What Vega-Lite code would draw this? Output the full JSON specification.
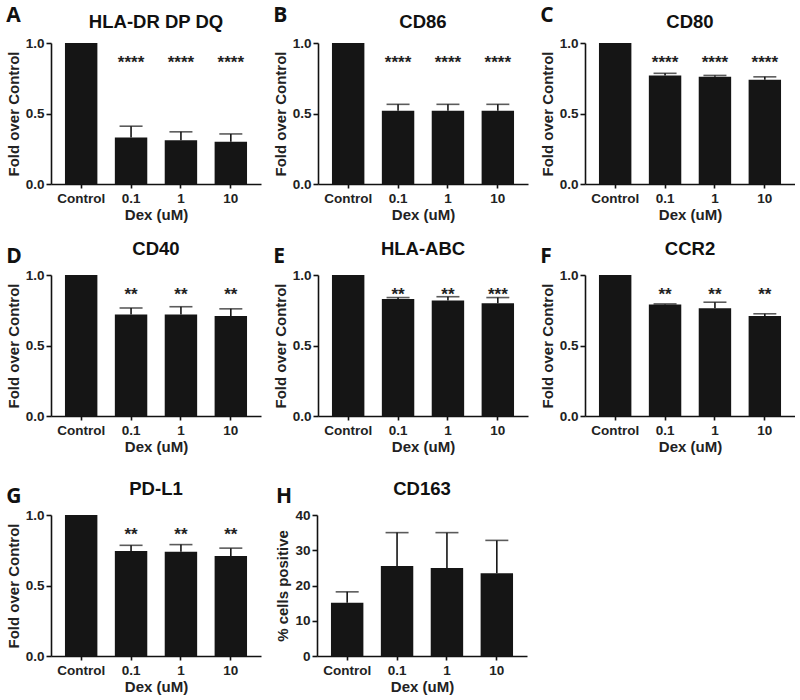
{
  "$schema": "https://vega.github.io/schema/vega-lite/v6.json",
  "background": "white",
  "padding": {"left": 6, "top": 4, "right": 0, "bottom": 0},
  "config": {
    "font": "Liberation Sans",
    "view": {"stroke": null},
    "axis": {
      "domainColor": "#111", "domainWidth": 1.6, "tickColor": "#111", "tickWidth": 1.6,
      "labelFont": "Liberation Sans", "labelFontWeight": "bold", "labelFontSize": 13.5, "labelColor": "#222",
      "titleFont": "Liberation Sans", "titleFontWeight": "bold", "titleFontSize": 15, "titleColor": "#222",
      "grid": false
    },
    "axisX": {"labelAngle": 0, "tickSize": 4, "labelPadding": 3, "titlePadding": 3},
    "axisY": {"tickSize": 5, "labelPadding": 2, "titlePadding": 4},
    "title": {"font": "Liberation Sans", "fontWeight": "bold", "fontSize": 18.5, "color": "#111"}
  },
  "datasets": {
    "d": [
      {"panel": "A", "dose": "Control", "mean": 1.0, "upper": 1.0, "sig": ""},
      {"panel": "A", "dose": "0.1", "mean": 0.33, "upper": 0.41, "sig": "****"},
      {"panel": "A", "dose": "1", "mean": 0.31, "upper": 0.37, "sig": "****"},
      {"panel": "A", "dose": "10", "mean": 0.30, "upper": 0.355, "sig": "****"},
      {"panel": "B", "dose": "Control", "mean": 1.0, "upper": 1.0, "sig": ""},
      {"panel": "B", "dose": "0.1", "mean": 0.52, "upper": 0.565, "sig": "****"},
      {"panel": "B", "dose": "1", "mean": 0.52, "upper": 0.565, "sig": "****"},
      {"panel": "B", "dose": "10", "mean": 0.52, "upper": 0.565, "sig": "****"},
      {"panel": "C", "dose": "Control", "mean": 1.0, "upper": 1.0, "sig": ""},
      {"panel": "C", "dose": "0.1", "mean": 0.77, "upper": 0.785, "sig": "****"},
      {"panel": "C", "dose": "1", "mean": 0.76, "upper": 0.77, "sig": "****"},
      {"panel": "C", "dose": "10", "mean": 0.74, "upper": 0.76, "sig": "****"},
      {"panel": "D", "dose": "Control", "mean": 1.0, "upper": 1.0, "sig": ""},
      {"panel": "D", "dose": "0.1", "mean": 0.72, "upper": 0.766, "sig": "**"},
      {"panel": "D", "dose": "1", "mean": 0.72, "upper": 0.775, "sig": "**"},
      {"panel": "D", "dose": "10", "mean": 0.71, "upper": 0.76, "sig": "**"},
      {"panel": "E", "dose": "Control", "mean": 1.0, "upper": 1.0, "sig": ""},
      {"panel": "E", "dose": "0.1", "mean": 0.83, "upper": 0.84, "sig": "**"},
      {"panel": "E", "dose": "1", "mean": 0.82, "upper": 0.846, "sig": "**"},
      {"panel": "E", "dose": "10", "mean": 0.80, "upper": 0.84, "sig": "***"},
      {"panel": "F", "dose": "Control", "mean": 1.0, "upper": 1.0, "sig": ""},
      {"panel": "F", "dose": "0.1", "mean": 0.79, "upper": 0.795, "sig": "**"},
      {"panel": "F", "dose": "1", "mean": 0.765, "upper": 0.807, "sig": "**"},
      {"panel": "F", "dose": "10", "mean": 0.71, "upper": 0.725, "sig": "**"},
      {"panel": "G", "dose": "Control", "mean": 1.0, "upper": 1.0, "sig": ""},
      {"panel": "G", "dose": "0.1", "mean": 0.745, "upper": 0.785, "sig": "**"},
      {"panel": "G", "dose": "1", "mean": 0.74, "upper": 0.79, "sig": "**"},
      {"panel": "G", "dose": "10", "mean": 0.71, "upper": 0.765, "sig": "**"},
      {"panel": "H", "dose": "Control", "mean": 15.1, "upper": 18.2, "sig": ""},
      {"panel": "H", "dose": "0.1", "mean": 25.5, "upper": 35.0, "sig": ""},
      {"panel": "H", "dose": "1", "mean": 25.0, "upper": 35.0, "sig": ""},
      {"panel": "H", "dose": "10", "mean": 23.5, "upper": 32.8, "sig": ""}
    ]
  },
  "spacing": 24,
  "vconcat": [
   {"vconcat": [
    {"hconcat": [
    {"title": {"text": "A", "anchor": "start", "frame": "bounds", "font": "Open Sans", "fontSize": 21, "offset": -13},
     "vconcat": [{
      "title": {"text": "HLA-DR DP DQ", "offset": 5},
      "width": 210, "height": 141,
      "data": {"name": "d"}, "transform": [{"filter": "datum.panel == 'A'"}],
      "encoding": {"x": {"field": "dose", "type": "nominal", "sort": ["Control", "0.1", "1", "10"], "title": "Dex (uM)", "scale": {"paddingInner": 0.35, "paddingOuter": 0.28}}},
      "layer": [
        {"mark": {"type": "bar", "color": "#151515"}, "encoding": {"y": {"field": "mean", "type": "quantitative", "title": "Fold over Control", "scale": {"domain": [0, 1]}, "axis": {"values": [0, 0.5, 1], "format": ".1f"}}}},
        {"transform": [{"filter": "datum.upper > datum.mean"}], "mark": {"type": "rule", "color": "#151515", "strokeWidth": 1.6}, "encoding": {"y": {"field": "mean", "type": "quantitative", "title": "Fold over Control", "axis": {"values": [0, 0.5, 1], "format": ".1f"}}, "y2": {"field": "upper"}}},
        {"transform": [{"filter": "datum.upper > datum.mean"}], "mark": {"type": "tick", "color": "#151515", "thickness": 1.6, "size": 23, "orient": "horizontal"}, "encoding": {"y": {"field": "upper", "type": "quantitative", "title": "Fold over Control", "axis": {"values": [0, 0.5, 1], "format": ".1f"}}}},
        {"transform": [{"filter": "datum.sig != ''"}], "mark": {"type": "text", "font": "Liberation Sans", "fontWeight": "bold", "fontSize": 17, "baseline": "middle", "dy": 3, "color": "#222"}, "encoding": {"y": {"datum": 0.88}, "text": {"field": "sig"}}}
      ]}]},
    {"title": {"text": "B", "anchor": "start", "frame": "bounds", "font": "Open Sans", "fontSize": 21, "offset": -13},
     "vconcat": [{
      "title": {"text": "CD86", "offset": 5},
      "width": 210, "height": 141,
      "data": {"name": "d"}, "transform": [{"filter": "datum.panel == 'B'"}],
      "encoding": {"x": {"field": "dose", "type": "nominal", "sort": ["Control", "0.1", "1", "10"], "title": "Dex (uM)", "scale": {"paddingInner": 0.35, "paddingOuter": 0.28}}},
      "layer": [
        {"mark": {"type": "bar", "color": "#151515"}, "encoding": {"y": {"field": "mean", "type": "quantitative", "title": "Fold over Control", "scale": {"domain": [0, 1]}, "axis": {"values": [0, 0.5, 1], "format": ".1f"}}}},
        {"transform": [{"filter": "datum.upper > datum.mean"}], "mark": {"type": "rule", "color": "#151515", "strokeWidth": 1.6}, "encoding": {"y": {"field": "mean", "type": "quantitative", "title": "Fold over Control", "axis": {"values": [0, 0.5, 1], "format": ".1f"}}, "y2": {"field": "upper"}}},
        {"transform": [{"filter": "datum.upper > datum.mean"}], "mark": {"type": "tick", "color": "#151515", "thickness": 1.6, "size": 23, "orient": "horizontal"}, "encoding": {"y": {"field": "upper", "type": "quantitative", "title": "Fold over Control", "axis": {"values": [0, 0.5, 1], "format": ".1f"}}}},
        {"transform": [{"filter": "datum.sig != ''"}], "mark": {"type": "text", "font": "Liberation Sans", "fontWeight": "bold", "fontSize": 17, "baseline": "middle", "dy": 3, "color": "#222"}, "encoding": {"y": {"datum": 0.88}, "text": {"field": "sig"}}}
      ]}]},
    {"title": {"text": "C", "anchor": "start", "frame": "bounds", "font": "Open Sans", "fontSize": 21, "offset": -13},
     "vconcat": [{
      "title": {"text": "CD80", "offset": 5},
      "width": 210, "height": 141,
      "data": {"name": "d"}, "transform": [{"filter": "datum.panel == 'C'"}],
      "encoding": {"x": {"field": "dose", "type": "nominal", "sort": ["Control", "0.1", "1", "10"], "title": "Dex (uM)", "scale": {"paddingInner": 0.35, "paddingOuter": 0.28}}},
      "layer": [
        {"mark": {"type": "bar", "color": "#151515"}, "encoding": {"y": {"field": "mean", "type": "quantitative", "title": "Fold over Control", "scale": {"domain": [0, 1]}, "axis": {"values": [0, 0.5, 1], "format": ".1f"}}}},
        {"transform": [{"filter": "datum.upper > datum.mean"}], "mark": {"type": "rule", "color": "#151515", "strokeWidth": 1.6}, "encoding": {"y": {"field": "mean", "type": "quantitative", "title": "Fold over Control", "axis": {"values": [0, 0.5, 1], "format": ".1f"}}, "y2": {"field": "upper"}}},
        {"transform": [{"filter": "datum.upper > datum.mean"}], "mark": {"type": "tick", "color": "#151515", "thickness": 1.6, "size": 23, "orient": "horizontal"}, "encoding": {"y": {"field": "upper", "type": "quantitative", "title": "Fold over Control", "axis": {"values": [0, 0.5, 1], "format": ".1f"}}}},
        {"transform": [{"filter": "datum.sig != ''"}], "mark": {"type": "text", "font": "Liberation Sans", "fontWeight": "bold", "fontSize": 17, "baseline": "middle", "dy": 3, "color": "#222"}, "encoding": {"y": {"datum": 0.88}, "text": {"field": "sig"}}}
      ]}]}
    ], "spacing": 12},
    {"hconcat": [
    {"title": {"text": "D", "anchor": "start", "frame": "bounds", "font": "Open Sans", "fontSize": 21, "offset": -27},
     "vconcat": [{
      "title": {"text": "CD40", "offset": 10},
      "width": 210, "height": 141,
      "data": {"name": "d"}, "transform": [{"filter": "datum.panel == 'D'"}],
      "encoding": {"x": {"field": "dose", "type": "nominal", "sort": ["Control", "0.1", "1", "10"], "title": "Dex (uM)", "scale": {"paddingInner": 0.35, "paddingOuter": 0.28}}},
      "layer": [
        {"mark": {"type": "bar", "color": "#151515"}, "encoding": {"y": {"field": "mean", "type": "quantitative", "title": "Fold over Control", "scale": {"domain": [0, 1]}, "axis": {"values": [0, 0.5, 1], "format": ".1f"}}}},
        {"transform": [{"filter": "datum.upper > datum.mean"}], "mark": {"type": "rule", "color": "#151515", "strokeWidth": 1.6}, "encoding": {"y": {"field": "mean", "type": "quantitative", "title": "Fold over Control", "axis": {"values": [0, 0.5, 1], "format": ".1f"}}, "y2": {"field": "upper"}}},
        {"transform": [{"filter": "datum.upper > datum.mean"}], "mark": {"type": "tick", "color": "#151515", "thickness": 1.6, "size": 23, "orient": "horizontal"}, "encoding": {"y": {"field": "upper", "type": "quantitative", "title": "Fold over Control", "axis": {"values": [0, 0.5, 1], "format": ".1f"}}}},
        {"transform": [{"filter": "datum.sig != ''"}], "mark": {"type": "text", "font": "Liberation Sans", "fontWeight": "bold", "fontSize": 17, "baseline": "middle", "dy": 3, "color": "#222"}, "encoding": {"y": {"datum": 0.88}, "text": {"field": "sig"}}}
      ]}]},
    {"title": {"text": "E", "anchor": "start", "frame": "bounds", "font": "Open Sans", "fontSize": 21, "offset": -27},
     "vconcat": [{
      "title": {"text": "HLA-ABC", "offset": 10},
      "width": 210, "height": 141,
      "data": {"name": "d"}, "transform": [{"filter": "datum.panel == 'E'"}],
      "encoding": {"x": {"field": "dose", "type": "nominal", "sort": ["Control", "0.1", "1", "10"], "title": "Dex (uM)", "scale": {"paddingInner": 0.35, "paddingOuter": 0.28}}},
      "layer": [
        {"mark": {"type": "bar", "color": "#151515"}, "encoding": {"y": {"field": "mean", "type": "quantitative", "title": "Fold over Control", "scale": {"domain": [0, 1]}, "axis": {"values": [0, 0.5, 1], "format": ".1f"}}}},
        {"transform": [{"filter": "datum.upper > datum.mean"}], "mark": {"type": "rule", "color": "#151515", "strokeWidth": 1.6}, "encoding": {"y": {"field": "mean", "type": "quantitative", "title": "Fold over Control", "axis": {"values": [0, 0.5, 1], "format": ".1f"}}, "y2": {"field": "upper"}}},
        {"transform": [{"filter": "datum.upper > datum.mean"}], "mark": {"type": "tick", "color": "#151515", "thickness": 1.6, "size": 23, "orient": "horizontal"}, "encoding": {"y": {"field": "upper", "type": "quantitative", "title": "Fold over Control", "axis": {"values": [0, 0.5, 1], "format": ".1f"}}}},
        {"transform": [{"filter": "datum.sig != ''"}], "mark": {"type": "text", "font": "Liberation Sans", "fontWeight": "bold", "fontSize": 17, "baseline": "middle", "dy": 3, "color": "#222"}, "encoding": {"y": {"datum": 0.88}, "text": {"field": "sig"}}}
      ]}]},
    {"title": {"text": "F", "anchor": "start", "frame": "bounds", "font": "Open Sans", "fontSize": 21, "offset": -27},
     "vconcat": [{
      "title": {"text": "CCR2", "offset": 10},
      "width": 210, "height": 141,
      "data": {"name": "d"}, "transform": [{"filter": "datum.panel == 'F'"}],
      "encoding": {"x": {"field": "dose", "type": "nominal", "sort": ["Control", "0.1", "1", "10"], "title": "Dex (uM)", "scale": {"paddingInner": 0.35, "paddingOuter": 0.28}}},
      "layer": [
        {"mark": {"type": "bar", "color": "#151515"}, "encoding": {"y": {"field": "mean", "type": "quantitative", "title": "Fold over Control", "scale": {"domain": [0, 1]}, "axis": {"values": [0, 0.5, 1], "format": ".1f"}}}},
        {"transform": [{"filter": "datum.upper > datum.mean"}], "mark": {"type": "rule", "color": "#151515", "strokeWidth": 1.6}, "encoding": {"y": {"field": "mean", "type": "quantitative", "title": "Fold over Control", "axis": {"values": [0, 0.5, 1], "format": ".1f"}}, "y2": {"field": "upper"}}},
        {"transform": [{"filter": "datum.upper > datum.mean"}], "mark": {"type": "tick", "color": "#151515", "thickness": 1.6, "size": 23, "orient": "horizontal"}, "encoding": {"y": {"field": "upper", "type": "quantitative", "title": "Fold over Control", "axis": {"values": [0, 0.5, 1], "format": ".1f"}}}},
        {"transform": [{"filter": "datum.sig != ''"}], "mark": {"type": "text", "font": "Liberation Sans", "fontWeight": "bold", "fontSize": 17, "baseline": "middle", "dy": 3, "color": "#222"}, "encoding": {"y": {"datum": 0.88}, "text": {"field": "sig"}}}
      ]}]}
    ], "spacing": 12}
   ], "spacing": 16},
    {"hconcat": [
    {"title": {"text": "G", "anchor": "start", "frame": "bounds", "font": "Open Sans", "fontSize": 21, "offset": -27},
     "vconcat": [{
      "title": {"text": "PD-L1", "offset": 10},
      "width": 210, "height": 141,
      "data": {"name": "d"}, "transform": [{"filter": "datum.panel == 'G'"}],
      "encoding": {"x": {"field": "dose", "type": "nominal", "sort": ["Control", "0.1", "1", "10"], "title": "Dex (uM)", "scale": {"paddingInner": 0.35, "paddingOuter": 0.28}}},
      "layer": [
        {"mark": {"type": "bar", "color": "#151515"}, "encoding": {"y": {"field": "mean", "type": "quantitative", "title": "Fold over Control", "scale": {"domain": [0, 1]}, "axis": {"values": [0, 0.5, 1], "format": ".1f"}}}},
        {"transform": [{"filter": "datum.upper > datum.mean"}], "mark": {"type": "rule", "color": "#151515", "strokeWidth": 1.6}, "encoding": {"y": {"field": "mean", "type": "quantitative", "title": "Fold over Control", "axis": {"values": [0, 0.5, 1], "format": ".1f"}}, "y2": {"field": "upper"}}},
        {"transform": [{"filter": "datum.upper > datum.mean"}], "mark": {"type": "tick", "color": "#151515", "thickness": 1.6, "size": 23, "orient": "horizontal"}, "encoding": {"y": {"field": "upper", "type": "quantitative", "title": "Fold over Control", "axis": {"values": [0, 0.5, 1], "format": ".1f"}}}},
        {"transform": [{"filter": "datum.sig != ''"}], "mark": {"type": "text", "font": "Liberation Sans", "fontWeight": "bold", "fontSize": 17, "baseline": "middle", "dy": 3, "color": "#222"}, "encoding": {"y": {"datum": 0.88}, "text": {"field": "sig"}}}
      ]}]},
    {"title": {"text": "H", "anchor": "start", "frame": "bounds", "font": "Open Sans", "fontSize": 21, "offset": -27},
     "vconcat": [{
      "title": {"text": "CD163", "offset": 10},
      "width": 210, "height": 141,
      "data": {"name": "d"}, "transform": [{"filter": "datum.panel == 'H'"}],
      "encoding": {"x": {"field": "dose", "type": "nominal", "sort": ["Control", "0.1", "1", "10"], "title": "Dex (uM)", "scale": {"paddingInner": 0.35, "paddingOuter": 0.28}}},
      "layer": [
        {"mark": {"type": "bar", "color": "#151515"}, "encoding": {"y": {"field": "mean", "type": "quantitative", "title": "% cells positive", "scale": {"domain": [0, 40]}, "axis": {"values": [0, 10, 20, 30, 40], "labelOverlap": false}}}},
        {"transform": [{"filter": "datum.upper > datum.mean"}], "mark": {"type": "rule", "color": "#151515", "strokeWidth": 1.6}, "encoding": {"y": {"field": "mean", "type": "quantitative", "title": "% cells positive", "axis": {"values": [0, 10, 20, 30, 40], "labelOverlap": false}}, "y2": {"field": "upper"}}},
        {"transform": [{"filter": "datum.upper > datum.mean"}], "mark": {"type": "tick", "color": "#151515", "thickness": 1.6, "size": 23, "orient": "horizontal"}, "encoding": {"y": {"field": "upper", "type": "quantitative", "title": "% cells positive", "axis": {"values": [0, 10, 20, 30, 40], "labelOverlap": false}}}}
      ]}]}
    ], "spacing": 14}
  ]
}
